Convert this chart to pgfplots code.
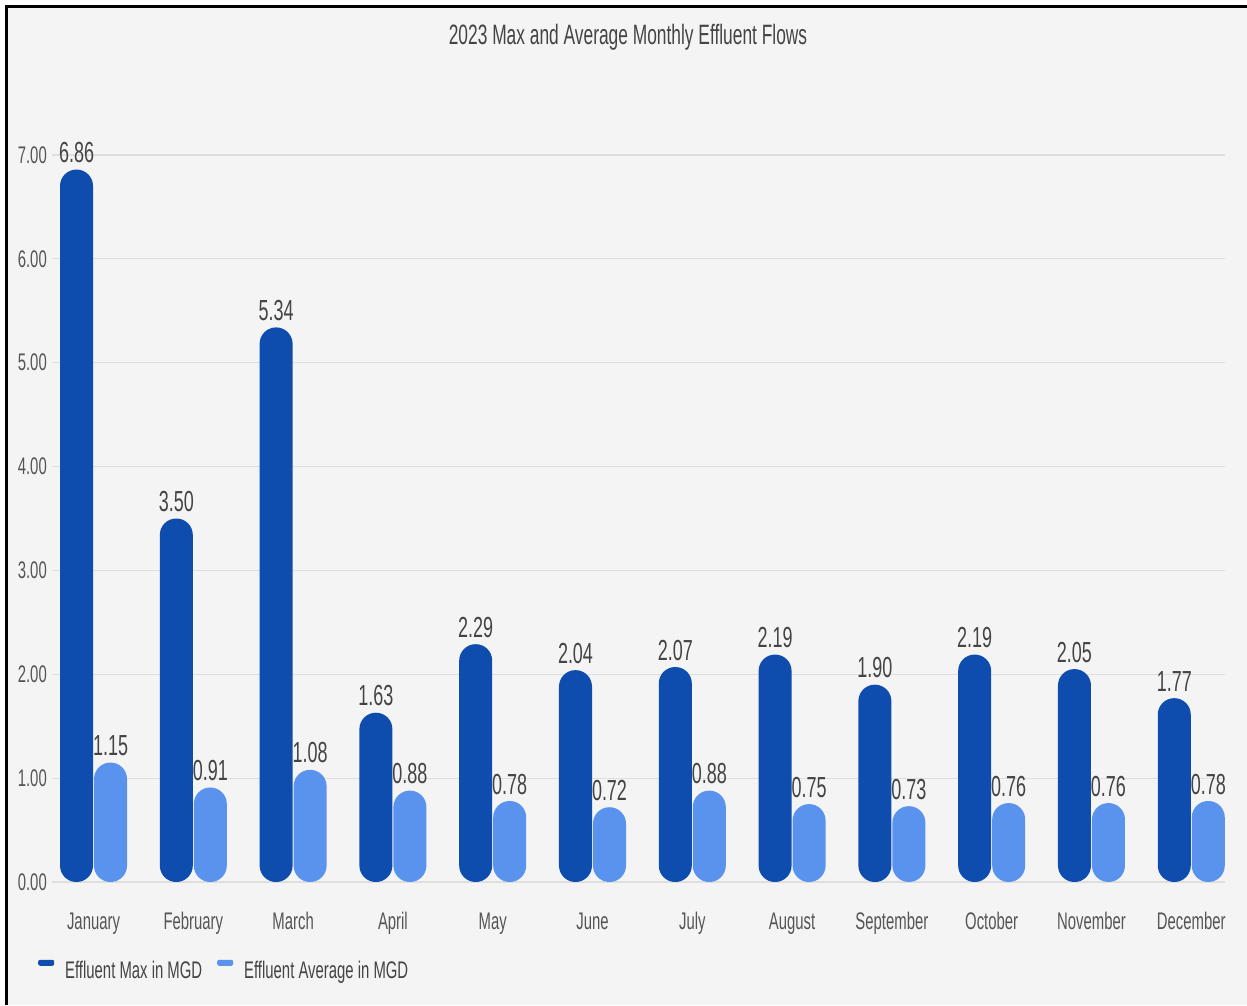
\documentclass[border=0pt]{standalone}
\usepackage{pgfplots}
\pgfplotsset{compat=1.18}
\usepackage{fontspec}
\setmainfont[FakeStretch=0.62]{Liberation Sans}

\definecolor{maxblue}{HTML}{0E4DAE}
\definecolor{avgblue}{HTML}{5A93EE}
\definecolor{panel}{HTML}{F4F4F4}
\definecolor{gridgray}{HTML}{DEDEDE}
\definecolor{txt}{HTML}{444444}
\definecolor{ticktxt}{HTML}{555555}

\newcommand\tickfont{\fontsize{24}{28}\selectfont}
\newcommand\legfont{\fontsize{24}{28}\selectfont}
\newcommand\valfont{\fontsize{29}{34}\selectfont}
\newcommand\titlefont{\fontsize{28}{33}\selectfont}

\begin{document}
\begin{tikzpicture}[x=1pt,y=1pt]
% page background and frame
\fill[white] (0,0) rectangle (1247,1005);
\fill[black] (5,0) rectangle (1247,1000);
\fill[panel] (8,0) rectangle (1247,997);
\node[anchor=base, text=txt, font=\titlefont, inner sep=0pt] at (628,960)
  {2023 Max and Average Monthly Effluent Flows};
\begin{axis}[
  at={(52pt,123pt)}, anchor=south west,
  scale only axis, width=1173pt, height=727pt,
  xmin=-0.416, xmax=11.338, ymin=0, ymax=7,
  ybar=1pt, bar width=33pt,
  axis line style={draw=none},
  major tick length=0pt,
  ymajorgrids, grid style={gridgray, line width=1.2pt},
  ytick={0,1,...,7},
  xtick={0,1,...,11},
  xticklabels={January,February,March,April,May,June,July,August,September,October,November,December},
  /pgf/number format/assume math mode=true,
  yticklabel style={/pgf/number format/fixed, /pgf/number format/fixed zerofill,
    /pgf/number format/precision=2, anchor=east, inner sep=0pt, xshift=-5pt,
    font=\tickfont, text=ticktxt},
  xticklabel style={anchor=base, inner sep=0pt, yshift=-47pt, font=\tickfont, text=ticktxt},
  nodes near coords,
  nodes near coords style={/pgf/number format/fixed, /pgf/number format/fixed zerofill,
    /pgf/number format/precision=2, anchor=south, inner sep=0pt, yshift=6.5pt,
    font=\valfont, text=txt},
  legend style={at={(axis description cs:0,0)}, anchor=west, xshift=-14pt, yshift=-88pt,
    draw=none, fill=none, inner sep=0pt, font=\legfont, text=txt,
    nodes={inner sep=0pt},
    /tikz/every odd column/.append style={column sep=11pt},
    /tikz/every even column/.append style={column sep=15pt}},
  legend columns=2,
  legend cell align=left,
  legend image code/.code={\fill[#1, rounded corners=2pt] (0pt,5pt) rectangle (16pt,11pt);},
]
\addplot[fill=maxblue, draw=none, rounded corners=16.4pt] coordinates {
  (0,6.86) (1,3.50) (2,5.34) (3,1.63) (4,2.29) (5,2.04)
  (6,2.07) (7,2.19) (8,1.90) (9,2.19) (10,2.05) (11,1.77)};
\addplot[fill=avgblue, draw=none, rounded corners=16.4pt] coordinates {
  (0,1.15) (1,0.91) (2,1.08) (3,0.88) (4,0.78) (5,0.72)
  (6,0.88) (7,0.75) (8,0.73) (9,0.76) (10,0.76) (11,0.78)};
\legend{Effluent Max in MGD, Effluent Average in MGD}
\end{axis}
\end{tikzpicture}
\end{document}
